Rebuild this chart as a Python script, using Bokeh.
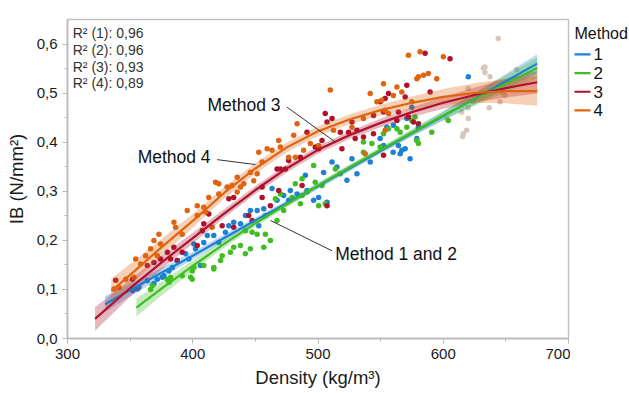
from bokeh.plotting import figure
from bokeh.layouts import row
from bokeh.models import FixedTicker, CustomJSTickFormatter
from bokeh.embed import file_html
from bokeh.resources import INLINE
from bokeh.core.properties import value

# ---------------- data ----------------
x_ticks = [300, 400, 500, 600, 700]
x_minor = [350, 450, 550, 650]
y_ticks = [0.0, 0.1, 0.2, 0.3, 0.4, 0.5, 0.6]
y_minor = [0.05, 0.15, 0.25, 0.35, 0.45, 0.55]

legend_title = "Method"
methods = ["1", "2", "3", "4"]
r2_labels = ["R² (1): 0,96", "R² (2): 0,96", "R² (3): 0,93", "R² (4): 0,89"]

# scatter points, Method 1 (blue)
m1_x = [352, 355.8, 357, 363.7, 369, 371.7, 375.7, 377, 381, 383.7, 387.6, 394.3, 396.9, 400.9, 402.2,
        406.2, 408.8, 411.6, 416.8, 420.8, 426.1, 428.8, 432.7, 438.1, 442.1, 446, 451.4, 452.7, 456.7,
        463.3, 467.3, 472.6, 476.6, 477.9, 483.3, 489.9, 491.2, 496.5, 500.5, 504.5, 507.2, 511.2, 515.1,
        523.1, 527.1, 531.1, 541.7, 549.6, 552.3, 555, 560, 560.2, 564.2, 565.6, 566.9, 569.6, 570.9,
        573.5, 574.9, 578.9, 580.2, 620]
m1_y = [0.098, 0.101, 0.104, 0.118, 0.112, 0.121, 0.125, 0.128, 0.138, 0.145, 0.159, 0.173, 0.162, 0.193, 0.183,
        0.149, 0.196, 0.21, 0.21, 0.196, 0.217, 0.23, 0.237, 0.234, 0.251, 0.261, 0.261, 0.23, 0.265,
        0.306, 0.282, 0.292, 0.282, 0.302, 0.295, 0.333, 0.302, 0.282, 0.288, 0.339, 0.278, 0.36, 0.35,
        0.323, 0.367, 0.336, 0.36, 0.408, 0.394, 0.431, 0.38, 0.435, 0.394, 0.377, 0.384, 0.387, 0.449,
        0.367, 0.472, 0.408, 0.431, 0.534]

# scatter points, Method 2 (green)
m2_x = [366.4, 367.7, 379.7, 381, 382.3, 391.6, 398.3, 399.6, 399.6, 400.9, 408.8, 416.8, 416.8, 422.2,
        423.5, 430.1, 432.7, 438.1, 442, 442.1, 446, 447.4, 451.4, 456.7, 458, 458, 462, 466, 467.3,
        470, 472.6, 479.3, 481.9, 485.9, 487.3, 487.3, 491.2, 496.5, 497.8, 500.5, 503.2, 505.8, 513.8,
        517.8, 536.3, 536.3, 543, 549.6, 552.3, 556.3, 563, 565.6, 570.9, 574.9, 577.5, 578.9, 580.2,
        590.8, 604]
m2_y = [0.1, 0.108, 0.121, 0.115, 0.125, 0.128, 0.125, 0.138, 0.121, 0.145, 0.149, 0.142, 0.145, 0.159,
        0.169, 0.176, 0.186, 0.19, 0.173, 0.22, 0.183, 0.217, 0.213, 0.186, 0.213, 0.251, 0.2, 0.285, 0.241,
        0.295, 0.261, 0.288, 0.316, 0.275, 0.292, 0.326, 0.299, 0.353, 0.319, 0.271, 0.312, 0.275, 0.346,
        0.336, 0.401, 0.38, 0.398, 0.391, 0.418, 0.428, 0.428, 0.421, 0.431, 0.445, 0.452, 0.404, 0.398,
        0.421, 0.445]

# scatter points, Method 3 (red)
m3_x = [338.5, 351.8, 363.7, 369, 374.3, 379.7, 382.3, 384.9, 387.6, 391.6, 403.6, 407.6, 408.8, 412.8,
        423.5, 428.8, 432.7, 432.7, 444.7, 447.4, 455.4, 455.4, 462, 467.3, 468.6, 470, 474, 476.6,
        485.9, 487.3, 491.2, 497.8, 500.5, 503.2, 505.8, 507.2, 507.2, 511.2, 517.8, 519.1, 524.4, 527.1,
        529.7, 531.1, 536.3, 544.3, 544.3, 549.6, 552.3, 552.3, 553.6, 556.3, 563, 564.2, 569.6, 570.9,
        572.2, 576.2, 580.2, 585.5, 589.5, 605.4]
m3_y = [0.119, 0.121, 0.149, 0.155, 0.162, 0.176, 0.162, 0.186, 0.159, 0.176, 0.19, 0.22, 0.234, 0.254,
        0.23, 0.285, 0.288, 0.227, 0.251, 0.241, 0.288, 0.309, 0.271, 0.346, 0.302, 0.346, 0.346, 0.363,
        0.37, 0.312, 0.421, 0.391, 0.387, 0.404, 0.459, 0.442, 0.271, 0.449, 0.421, 0.387, 0.421, 0.442,
        0.408, 0.425, 0.411, 0.418, 0.455, 0.483, 0.462, 0.374, 0.49, 0.5, 0.445, 0.462, 0.493, 0.517,
        0.452, 0.442, 0.438, 0.582, 0.503, 0.571]

# scatter points, Method 4 (orange)
m4_x = [337.1, 341.1, 346.5, 353.1, 354.4, 358.4, 362.4, 366.4, 369, 371.7, 373, 374.3, 385, 386.3,
        391.6, 395.6, 403.6, 403.6, 408.8, 410.2, 412.8, 415.5, 418.2, 420.8, 420.8, 427.5, 431.5, 435.5,
        435.5, 438.1, 440.7, 446, 448.7, 451.4, 452.7, 455.4, 459.4, 463.3, 468.6, 470, 476.6, 480.6,
        481.9, 483.3, 488.5, 493.9, 500.5, 509.8, 512.4, 527.1, 536.3, 537.7, 541.7, 547, 551, 552.3,
        553.6, 553.6, 556.3, 560.2, 563, 566.9, 572.2, 574.9, 578.9, 580.2, 581.5, 584.2, 588.1, 594.8,
        600.1]
m4_y = [0.101, 0.104, 0.121, 0.125, 0.162, 0.152, 0.169, 0.183, 0.2, 0.169, 0.213, 0.193, 0.237, 0.227,
        0.213, 0.261, 0.271, 0.251, 0.268, 0.258, 0.288, 0.227, 0.319, 0.295, 0.316, 0.309, 0.312, 0.299,
        0.329, 0.309, 0.316, 0.339, 0.322, 0.336, 0.38, 0.36, 0.387, 0.384, 0.404, 0.391, 0.37, 0.415,
        0.37, 0.438, 0.384, 0.398, 0.394, 0.507, 0.425, 0.431, 0.449, 0.377, 0.5, 0.483, 0.486, 0.52,
        0.466, 0.425, 0.459, 0.496, 0.513, 0.503, 0.578, 0.483, 0.53, 0.534, 0.585, 0.537, 0.541, 0.53,
        0.575]

# faded (beige) points at high density
mx_x = [602.8, 614.7, 615.5, 616, 618.7, 620, 620, 620, 624, 632, 633.3, 633.3, 636.7, 637.3, 643.9,
        645.3, 647.9, 649.2, 658.6]
mx_y = [0.449, 0.462, 0.412, 0.418, 0.425, 0.471, 0.449, 0.51, 0.483, 0.552, 0.543, 0.554, 0.471, 0.534,
        0.612, 0.483, 0.5, 0.496, 0.549]

# fitted curves with confidence-band half widths
f1_x = [330, 350, 375, 400, 425, 450, 475, 500, 525, 550, 575, 600, 625, 650, 675]
f1_y = [0.070, 0.099, 0.134, 0.169, 0.205, 0.241, 0.276, 0.311, 0.347, 0.383, 0.419, 0.454, 0.489, 0.525, 0.561]
f1_e = [0.016, 0.013, 0.010, 0.008, 0.007, 0.006, 0.006, 0.006, 0.006, 0.006, 0.007, 0.009, 0.012, 0.015, 0.019]

f2_x = [355, 375, 400, 425, 450, 475, 500, 525, 550, 575, 600, 625, 650, 675]
f2_y = [0.063, 0.102, 0.148, 0.193, 0.235, 0.274, 0.312, 0.349, 0.385, 0.420, 0.455, 0.488, 0.520, 0.552]
f2_e = [0.018, 0.014, 0.011, 0.008, 0.007, 0.006, 0.006, 0.006, 0.006, 0.007, 0.009, 0.013, 0.017, 0.021]

f3_x = [322, 350, 375, 400, 425, 450, 475, 500, 525, 550, 575, 600, 625, 650, 675]
f3_y = [0.040, 0.103, 0.155, 0.205, 0.255, 0.303, 0.347, 0.385, 0.415, 0.440, 0.462, 0.481, 0.497, 0.511, 0.523]
f3_e = [0.024, 0.018, 0.014, 0.011, 0.009, 0.008, 0.008, 0.008, 0.008, 0.009, 0.010, 0.012, 0.015, 0.019, 0.023]

f4_x = [335, 350, 375, 400, 425, 450, 475, 500, 525, 550, 575, 600, 625, 650, 675]
f4_y = [0.097, 0.130, 0.186, 0.240, 0.297, 0.347, 0.390, 0.423, 0.447, 0.466, 0.481, 0.493, 0.501, 0.505, 0.505]
f4_e = [0.025, 0.022, 0.017, 0.014, 0.012, 0.011, 0.010, 0.010, 0.010, 0.011, 0.013, 0.016, 0.020, 0.025, 0.030]

# annotations
ann_text = ["Method 3", "Method 4", "Method 1 and 2"]
ann_tx = [411.8, 356.0, 513.8]
ann_ty = [0.476, 0.370, 0.173]
lead_x0 = [475.3, 419.5, 511.2]
lead_y0 = [0.472, 0.365, 0.179]
lead_x1 = [513.8, 450.0, 462.0]
lead_y1 = [0.401, 0.355, 0.241]

# ---------------- styling ----------------
C_BLUE = "#1c80d4"
C_GREEN = "#3fbd22"
C_RED = "#b0122c"
C_ORANGE = "#df6410"
C_TAN = "#d6c7ba"
COLORS = [C_BLUE, C_GREEN, C_RED, C_ORANGE]
FONT = "Liberation Sans"

p = figure(width=570, height=393, x_range=(300, 700), y_range=(0, 0.651),
           output_backend="svg", toolbar_location=None,
           min_border_left=67, min_border_right=2, min_border_top=19, min_border_bottom=55)
p.background_fill_color = "white"
p.border_fill_color = "white"
p.xgrid.grid_line_color = None
p.ygrid.grid_line_color = None
p.outline_line_color = "#c2c2c2"
p.outline_line_width = 1.5

p.xaxis.ticker = FixedTicker(ticks=x_ticks, minor_ticks=x_minor)
p.yaxis.ticker = FixedTicker(ticks=y_ticks, minor_ticks=y_minor)
p.yaxis.formatter = CustomJSTickFormatter(code="return tick.toFixed(1).replace('.', ',');")
p.xaxis.axis_label = "Density (kg/m³)"
p.yaxis.axis_label = "IB (N/mm²)"
for ax in (p.xaxis, p.yaxis):
    ax.axis_line_color = "#b8b8b8"
    ax.axis_line_width = 1.5
    ax.major_tick_line_color = "#b8b8b8"
    ax.minor_tick_line_color = "#b8b8b8"
    ax.major_tick_out = 5
    ax.major_tick_in = 0
    ax.minor_tick_out = 3
    ax.minor_tick_in = 0
    ax.major_label_text_font = FONT
    ax.major_label_text_font_size = "15px"
    ax.major_label_text_color = "#1a1a1a"
    ax.axis_label_text_font = FONT
    ax.axis_label_text_font_size = "18.5px"
    ax.axis_label_text_font_style = "normal"
    ax.axis_label_text_color = "#1a1a1a"
p.yaxis.axis_label_standoff = 7
p.xaxis.axis_label_standoff = 5

# scatter
p.scatter(mx_x, mx_y, size=5.5, color=C_TAN, line_color=None)
p.scatter(m1_x, m1_y, size=5.5, color=C_BLUE, line_color=None)
p.scatter(m2_x, m2_y, size=5.5, color=C_GREEN, line_color=None)
p.scatter(m3_x, m3_y, size=5.5, color=C_RED, line_color=None)
p.scatter(m4_x, m4_y, size=5.5, color=C_ORANGE, line_color=None)

for fx, fy, fe, col in ((f1_x, f1_y, f1_e, C_BLUE), (f2_x, f2_y, f2_e, C_GREEN),
                        (f3_x, f3_y, f3_e, C_RED), (f4_x, f4_y, f4_e, C_ORANGE)):
    lo = [a - b for a, b in zip(fy, fe)]
    hi = [a + b for a, b in zip(fy, fe)]
    p.varea(x=fx, y1=lo, y2=hi, fill_color=col, fill_alpha=0.3)
for fx, fy, col in ((f1_x, f1_y, C_BLUE), (f2_x, f2_y, C_GREEN),
                    (f3_x, f3_y, C_RED), (f4_x, f4_y, C_ORANGE)):
    p.line(fx, fy, line_color=col, line_width=2.2)

# R² block
p.text(x=[304.2] * 4, y=[0.623, 0.589, 0.555, 0.521], text=r2_labels,
       text_font=value(FONT), text_font_size="14px", text_color="#333333",
       text_baseline="middle", text_align="left")

# annotations
p.segment(lead_x0, lead_y0, lead_x1, lead_y1, line_color="#333333", line_width=1)
p.text(x=ann_tx, y=ann_ty, text=ann_text, text_font=value(FONT), text_font_size="17.5px",
       text_color="#111111", text_baseline="middle", text_align="left")

# legend panel: a narrow figure whose axes are in pixels (y downwards)
q = figure(width=59, height=393, x_range=(0, 59), y_range=(393, 0),
           output_backend="svg", toolbar_location=None,
           min_border_left=0, min_border_right=0, min_border_top=0, min_border_bottom=0)
q.axis.visible = False
q.xgrid.grid_line_color = None
q.ygrid.grid_line_color = None
q.outline_line_color = None
q.background_fill_color = "white"
q.border_fill_color = "white"
row_y = [43, 66, 89, 112]
q.text(x=[4], y=[17], text=[legend_title], text_font=value(FONT), text_font_size="16px",
       text_color="#111111", text_baseline="middle", text_align="left")
q.segment(x0=[4] * 4, y0=row_y, x1=[20] * 4, y1=row_y, line_color=COLORS, line_width=2.2)
q.text(x=[23] * 4, y=row_y, text=methods, text_font=value(FONT), text_font_size="17px",
       text_color="#111111", text_baseline="middle", text_align="left")

layout = row(p, q, spacing=0)
open("out.html", "w").write(file_html(layout, INLINE))
